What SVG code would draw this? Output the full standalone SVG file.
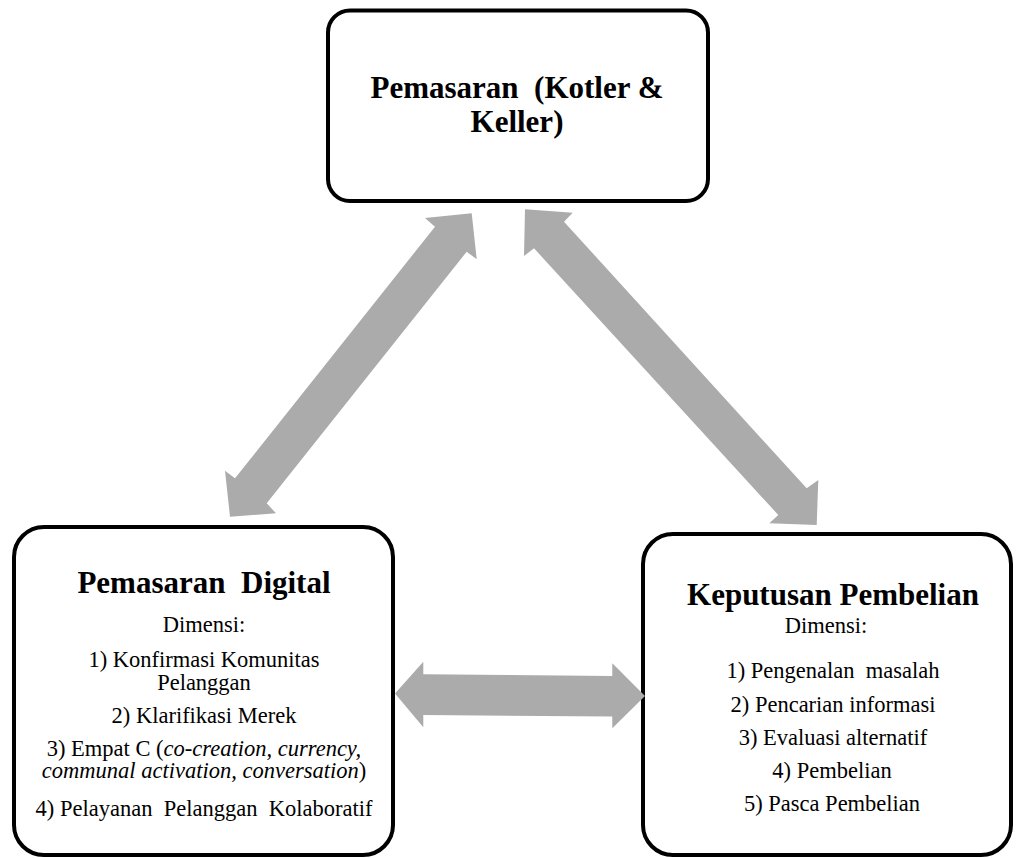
<svg xmlns="http://www.w3.org/2000/svg" width="1017" height="858" viewBox="0 0 1017 858">
<style>
.box{fill:#fff;stroke:#000;stroke-width:4}
.t{fill:#000;text-anchor:middle;white-space:pre}
.title{font-size:31px;font-weight:bold}
.body{font-size:22.5px}
.arrow{fill:#ababab;stroke:none}
</style>
<rect width="1017" height="858" fill="#fff"/>
<g id="node-pemasaran" font-family="Liberation Serif, Times New Roman, Times, serif">
<rect class="box" x="328" y="10.5" width="380" height="190.5" rx="22" ry="22"/>
<text class="t title" x="517" y="98" xml:space="preserve">Pemasaran  (Kotler &amp;</text>
<text class="t title" x="517" y="132">Keller)</text>
</g>
<g id="node-digital" font-family="Liberation Serif, Times New Roman, Times, serif">
<rect class="box" x="14" y="527" width="379" height="328" rx="30" ry="30"/>
<text class="t title" x="204" y="593" xml:space="preserve">Pemasaran  Digital</text>
<text class="t body" x="204" y="632">Dimensi:</text>
<text class="t body" x="204" y="667">1) Konfirmasi Komunitas</text>
<text class="t body" x="204" y="690">Pelanggan</text>
<text class="t body" x="204" y="723">2) Klarifikasi Merek</text>
<text class="t body" x="204" y="756">3) Empat C (<tspan font-style="italic">co-creation, currency,</tspan></text>
<text class="t body" x="204" y="778"><tspan font-style="italic">communal activation, conversation</tspan>)</text>
<text class="t body" x="204" y="816" xml:space="preserve">4) Pelayanan  Pelanggan  Kolaboratif</text>
</g>
<g id="node-keputusan" font-family="Liberation Serif, Times New Roman, Times, serif">
<rect class="box" x="643" y="534" width="368" height="321" rx="30" ry="30"/>
<text class="t title" x="833" y="605">Keputusan Pembelian</text>
<text class="t body" x="826" y="633">Dimensi:</text>
<text class="t body" x="833" y="678" xml:space="preserve">1) Pengenalan  masalah</text>
<text class="t body" x="833" y="712">2) Pencarian informasi</text>
<text class="t body" x="833" y="745">3) Evaluasi alternatif</text>
<text class="t body" x="832" y="778">4) Pembelian</text>
<text class="t body" x="832" y="811">5) Pasca Pembelian</text>
</g>
<g id="connectors">
<polygon class="arrow" points="471.7,213.3 476.7,259.3 466.7,251.7 266.7,503.3 276,513.3 230,516.7 225,470.7 235,478.3 435,226.7 425,218"/>
<polygon class="arrow" points="525,209.3 572.7,212.7 564,221.7 806.7,488.3 818.3,480 816.7,525 769.3,523.3 778.3,515 534,248.3 524,256"/>
<polygon class="arrow" points="395,693.5 423.3,661.7 423.3,674.3 612.3,676 612.3,663.3 645,696 612.3,728.3 612.3,716.5 423.3,715 423.3,727.3"/>
</g>
</svg>
